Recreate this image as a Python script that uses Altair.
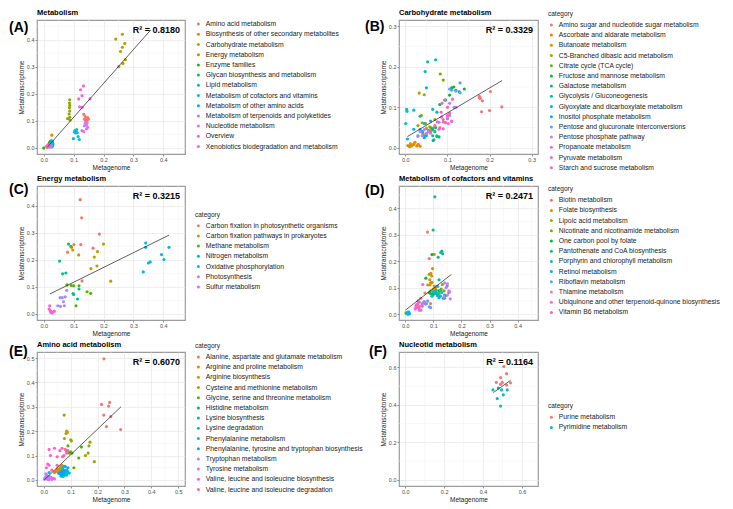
import math
import altair as alt
import pandas as pd

# ---------------- (A) Metabolism ----------------
A_cats = ["Amino acid metabolism", "Biosynthesis of other secondary metabolites", "Carbohydrate metabolism",
          "Energy metabolism", "Enzyme families", "Glycan biosynthesis and metabolism", "Lipid metabolism",
          "Metabolism of cofactors and vitamins", "Metabolism of other amino acids",
          "Metabolism of terpenoids and polyketides", "Nucleotide metabolism", "Overview",
          "Xenobiotics biodegradation and metabolism"]
A_mg = [[0.134, 0.139, 0.143, 0.147, 0.145, 0.136, 0.150, 0.140],
        [0.027, 0.020, 0.018, 0.022, 0.016, 0.024, 0.019, 0.021],
        [0.241, 0.263, 0.271, 0.263, 0.257, 0.273, 0.265, 0.251],
        [0.087, 0.086, 0.087, 0.086, 0.087, 0.085, 0.087, 0.080, 0.088],
        [0.000, 0.020, 0.023, 0.018, 0.025, 0.021, 0.017, 0.022],
        [0.022, 0.026, 0.024, 0.028, 0.020, 0.027, 0.023, 0.025],
        [0.027, 0.029, 0.025, 0.030, 0.028, 0.026, 0.031, 0.024],
        [0.104, 0.109, 0.112, 0.103, 0.110, 0.099, 0.115, 0.119, 0.107],
        [0.024, 0.027, 0.030, 0.026, 0.029, 0.022, 0.028, 0.025],
        [0.020, 0.024, 0.022, 0.026, 0.018, 0.023, 0.021, 0.025],
        [0.139, 0.145, 0.136, 0.143, 0.147, 0.143, 0.128, 0.134],
        [0.133, 0.123, 0.128, 0.117, 0.155, 0.120, 0.128],
        [0.012, 0.015, 0.010, 0.018, 0.014, 0.016, 0.011, 0.013]]
A_mt = [[0.124, 0.116, 0.109, 0.112, 0.104, 0.106, 0.106, 0.100],
        [0.047, 0.018, 0.012, 0.015, 0.008, 0.020, 0.010, 0.022],
        [0.402, 0.420, 0.386, 0.372, 0.356, 0.326, 0.312, 0.300],
        [0.178, 0.166, 0.157, 0.148, 0.136, 0.125, 0.113, 0.108, 0.103],
        [0.000, 0.020, 0.024, 0.015, 0.018, 0.012, 0.010, 0.022],
        [0.014, 0.022, 0.018, 0.020, 0.012, 0.016, 0.010, 0.025],
        [0.020, 0.024, 0.016, 0.018, 0.012, 0.026, 0.014, 0.010],
        [0.064, 0.060, 0.056, 0.058, 0.068, 0.034, 0.042, 0.031, 0.055],
        [0.010, 0.012, 0.008, 0.006, 0.014, 0.008, 0.004, 0.016],
        [0.006, 0.008, 0.010, 0.004, 0.007, 0.012, 0.003, 0.009],
        [0.091, 0.094, 0.082, 0.085, 0.076, 0.070, 0.064, 0.060],
        [0.229, 0.215, 0.193, 0.181, 0.181, 0.152, 0.150],
        [0.005, 0.003, 0.007, 0.006, 0.010, 0.008, 0.002, 0.004]]
A_fit_mg = [0.013, 0.358]
A_fit_mt = [0.004, 0.436]
A_r2 = "R² = 0.8180"

# ---------------- (B) Carbohydrate metabolism ----------------
B_cats = ["Amino sugar and nucleotide sugar metabolism", "Ascorbate and aldarate metabolism",
          "Butanoate metabolism", "C5-Branched dibasic acid metabolism", "Citrate cycle (TCA cycle)",
          "Fructose and mannose metabolism", "Galactose metabolism", "Glycolysis / Gluconeogenesis",
          "Glyoxylate and dicarboxylate metabolism", "Inositol phosphate metabolism",
          "Pentose and glucuronate interconversions", "Pentose phosphate pathway",
          "Propanoate metabolism", "Pyruvate metabolism", "Starch and sucrose metabolism"]
B_mg = [[0.176, 0.178, 0.183, 0.176, 0.202, 0.229, 0.181, 0.200],
        [0.006, 0.012, 0.019, 0.027, 0.035, 0.023, 0.011, 0.031],
        [0.015, 0.020, 0.010, 0.045, 0.050, 0.058, 0.040, 0.070],
        [0.033, 0.045, 0.038, 0.048, 0.060, 0.065, 0.030, 0.042],
        [0.083, 0.090, 0.095, 0.065, 0.070, 0.055, 0.075, 0.060],
        [0.105, 0.110, 0.115, 0.140, 0.095, 0.082, 0.120, 0.128],
        [0.065, 0.068, 0.070, 0.072, 0.075, 0.064, 0.080, 0.066],
        [0.053, 0.072, 0.047, 0.050, 0.065, 0.075, 0.035, 0.045],
        [0.003, 0.004, 0.001, 0.005, 0.020, 0.040, 0.050, 0.045],
        [0.035, 0.040, 0.050, 0.020, 0.060, 0.045, 0.030, 0.055],
        [0.130, 0.110, 0.120, 0.105, 0.130, 0.116, 0.105, 0.100],
        [0.040, 0.035, 0.045, 0.050, 0.030, 0.055, 0.080, 0.060],
        [0.100, 0.095, 0.090, 0.110, 0.086, 0.102, 0.105, 0.120],
        [0.087, 0.093, 0.100, 0.076, 0.080, 0.090, 0.085, 0.110],
        [0.112, 0.082, 0.095, 0.070, 0.100, 0.060, 0.090, 0.105]]
B_mt = [[0.127, 0.122, 0.116, 0.123, 0.139, 0.101, 0.089, 0.092],
        [0.006, 0.010, 0.008, 0.005, 0.004, 0.014, 0.004, 0.009],
        [0.005, 0.009, 0.003, 0.030, 0.048, 0.052, 0.062, 0.070],
        [0.135, 0.131, 0.080, 0.060, 0.042, 0.048, 0.055, 0.035],
        [0.182, 0.167, 0.118, 0.045, 0.052, 0.040, 0.030, 0.050],
        [0.130, 0.148, 0.150, 0.145, 0.118, 0.107, 0.142, 0.138],
        [0.030, 0.020, 0.040, 0.050, 0.028, 0.045, 0.027, 0.018],
        [0.212, 0.217, 0.188, 0.148, 0.095, 0.088, 0.078, 0.060],
        [0.095, 0.090, 0.060, 0.022, 0.093, 0.040, 0.030, 0.025],
        [0.045, 0.040, 0.035, 0.046, 0.066, 0.028, 0.030, 0.043],
        [0.160, 0.142, 0.140, 0.145, 0.136, 0.100, 0.080, 0.072],
        [0.030, 0.040, 0.045, 0.036, 0.028, 0.040, 0.063, 0.036],
        [0.075, 0.062, 0.064, 0.066, 0.076, 0.060, 0.110, 0.100],
        [0.110, 0.118, 0.080, 0.064, 0.046, 0.047, 0.088, 0.065],
        [0.120, 0.050, 0.063, 0.055, 0.100, 0.040, 0.070, 0.085]]
B_fit_mg = [0.005, 0.230]
B_fit_mt = [0.028, 0.166]
B_r2 = "R² = 0.3329"

# ---------------- (C) Energy metabolism ----------------
C_cats = ["Carbon fixation in photosynthetic organisms", "Carbon fixation pathways in prokaryotes",
          "Methane metabolism", "Nitrogen metabolism", "Oxidative phosphorylation", "Photosynthesis",
          "Sulfur metabolism"]
C_mg = [[0.122, 0.127, 0.186, 0.124, 0.101, 0.080, 0.165, 0.128],
        [0.200, 0.093, 0.097, 0.117, 0.180, 0.169, 0.178, 0.158, 0.224],
        [0.091, 0.078, 0.100, 0.118, 0.145, 0.157, 0.108, 0.092],
        [0.083, 0.053, 0.063, 0.074, 0.098, 0.100, 0.113, 0.118],
        [0.341, 0.341, 0.333, 0.350, 0.356, 0.394, 0.402, 0.419],
        [0.072, 0.055, 0.062, 0.066, 0.069, 0.047, 0.056, 0.077],
        [0.020, 0.018, 0.022, 0.025, 0.030, 0.028, 0.035, 0.024]]
C_mt = [[0.422, 0.355, 0.295, 0.256, 0.256, 0.228, 0.243, 0.122],
        [0.258, 0.246, 0.236, 0.218, 0.230, 0.210, 0.177, 0.167, 0.121],
        [0.250, 0.107, 0.104, 0.104, 0.082, 0.076, 0.030, 0.105],
        [0.258, 0.195, 0.148, 0.151, 0.075, 0.072, 0.055, 0.092],
        [0.262, 0.246, 0.155, 0.188, 0.192, 0.219, 0.201, 0.246],
        [0.063, 0.060, 0.060, 0.045, 0.030, 0.030, 0.028, 0.087],
        [0.030, 0.018, 0.012, 0.008, 0.005, 0.004, 0.010, 0.005]]
C_fit_mg = [0.021, 0.419]
C_fit_mt = [0.074, 0.291]
C_r2 = "R² = 0.3215"

# ---------------- (D) Metabolism of cofactors and vitamins ----------------
D_cats = ["Biotin metabolism", "Folate biosynthesis", "Lipoic acid metabolism",
          "Nicotinate and nicotinamide metabolism", "One carbon pool by folate",
          "Pantothenate and CoA biosynthesis", "Porphyrin and chlorophyll metabolism", "Retinol metabolism",
          "Riboflavin metabolism", "Thiamine metabolism",
          "Ubiquinone and other terpenoid-quinone biosynthesis", "Vitamin B6 metabolism"]
D_mg = [[0.079, 0.085, 0.090, 0.095, 0.070, 0.100, 0.088, 0.105],
        [0.103, 0.097, 0.091, 0.094, 0.087, 0.090, 0.103, 0.108],
        [0.002, 0.005, 0.008, 0.085, 0.095, 0.080, 0.100, 0.090],
        [0.132, 0.138, 0.143, 0.149, 0.155, 0.128, 0.120, 0.140],
        [0.073, 0.090, 0.095, 0.110, 0.115, 0.120, 0.085, 0.100],
        [0.105, 0.099, 0.130, 0.126, 0.133, 0.117, 0.120, 0.110],
        [0.005, 0.012, 0.100, 0.108, 0.125, 0.115, 0.095, 0.130],
        [0.010, 0.015, 0.120, 0.135, 0.125, 0.110, 0.140, 0.115],
        [0.050, 0.068, 0.075, 0.085, 0.060, 0.080, 0.090, 0.072],
        [0.140, 0.150, 0.145, 0.155, 0.150, 0.160, 0.138, 0.158],
        [0.062, 0.039, 0.041, 0.050, 0.055, 0.060, 0.045, 0.035],
        [0.040, 0.045, 0.055, 0.050, 0.060, 0.048, 0.065, 0.038]]
D_mt = [[0.310, 0.210, 0.040, 0.075, 0.080, 0.095, 0.110, 0.085],
        [0.226, 0.172, 0.154, 0.144, 0.130, 0.118, 0.106, 0.100],
        [0.005, 0.002, 0.008, 0.150, 0.120, 0.110, 0.095, 0.088],
        [0.112, 0.088, 0.070, 0.106, 0.082, 0.095, 0.078, 0.060],
        [0.136, 0.078, 0.225, 0.080, 0.072, 0.088, 0.082, 0.075],
        [0.443, 0.318, 0.238, 0.233, 0.228, 0.215, 0.130, 0.090],
        [0.003, 0.008, 0.085, 0.078, 0.090, 0.070, 0.068, 0.082],
        [0.000, 0.002, 0.062, 0.060, 0.068, 0.080, 0.072, 0.105],
        [0.046, 0.048, 0.040, 0.028, 0.035, 0.050, 0.025, 0.038],
        [0.118, 0.115, 0.100, 0.088, 0.072, 0.058, 0.065, 0.085],
        [0.112, 0.034, 0.025, 0.015, 0.015, 0.030, 0.040, 0.020],
        [0.035, 0.050, 0.060, 0.030, 0.040, 0.022, 0.045, 0.028]]
D_fit_mg = [0.000, 0.164]
D_fit_mt = [0.015, 0.150]
D_r2 = "R² = 0.2471"

# ---------------- (E) Amino acid metabolism ----------------
E_cats = ["Alanine, aspartate and glutamate metabolism", "Arginine and proline metabolism",
          "Arginine biosynthesis", "Cysteine and methionine metabolism",
          "Glycine, serine and threonine metabolism", "Histidine metabolism", "Lysine biosynthesis",
          "Lysine degradation", "Phenylalanine metabolism",
          "Phenylalanine, tyrosine and tryptophan biosynthesis", "Tryptophan metabolism",
          "Tyrosine metabolism", "Valine, leucine and isoleucine biosynthesis",
          "Valine, leucine and isoleucine degradation"]
E_mg = [[0.224, 0.215, 0.245, 0.241, 0.223, 0.249, 0.233, 0.286],
        [0.065, 0.060, 0.055, 0.045, 0.070, 0.040, 0.050, 0.068],
        [0.085, 0.088, 0.083, 0.077, 0.065, 0.058, 0.070, 0.062],
        [0.076, 0.100, 0.103, 0.155, 0.165, 0.168, 0.172, 0.188],
        [0.095, 0.100, 0.105, 0.090, 0.085, 0.130, 0.140, 0.112],
        [0.065, 0.070, 0.075, 0.068, 0.080, 0.062, 0.072, 0.078],
        [0.070, 0.075, 0.080, 0.065, 0.085, 0.072, 0.068, 0.078],
        [0.080, 0.090, 0.085, 0.075, 0.095, 0.070, 0.088, 0.082],
        [0.075, 0.090, 0.085, 0.020, 0.080, 0.070, 0.010, 0.060],
        [0.080, 0.065, 0.060, 0.070, 0.075, 0.055, 0.068, 0.072],
        [0.005, 0.010, 0.015, 0.008, 0.020, 0.012, 0.025, 0.003],
        [0.015, 0.020, 0.025, 0.030, 0.035, 0.010, 0.018, 0.040],
        [0.020, 0.025, 0.040, 0.060, 0.015, 0.020, 0.050, 0.010],
        [0.068, 0.080, 0.075, 0.090, 0.050, 0.070, 0.085, 0.030]]
E_mt = [[0.497, 0.310, 0.318, 0.303, 0.266, 0.260, 0.219, 0.207],
        [0.055, 0.050, 0.040, 0.035, 0.045, 0.030, 0.045, 0.060],
        [0.200, 0.195, 0.190, 0.170, 0.040, 0.035, 0.030, 0.045],
        [0.266, 0.165, 0.160, 0.100, 0.110, 0.140, 0.155, 0.075],
        [0.110, 0.115, 0.110, 0.140, 0.120, 0.090, 0.135, 0.050],
        [0.030, 0.020, 0.025, 0.035, 0.020, 0.028, 0.015, 0.032],
        [0.020, 0.030, 0.025, 0.015, 0.030, 0.018, 0.025, 0.022],
        [0.040, 0.030, 0.020, 0.025, 0.028, 0.018, 0.035, 0.022],
        [0.055, 0.050, 0.040, 0.030, 0.035, 0.045, 0.020, 0.030],
        [0.055, 0.030, 0.025, 0.020, 0.035, 0.028, 0.018, 0.022],
        [0.010, 0.020, 0.008, 0.025, 0.015, 0.005, 0.012, 0.003],
        [0.003, 0.005, 0.010, 0.002, 0.008, 0.015, 0.001, 0.004],
        [0.125, 0.100, 0.130, 0.120, 0.065, 0.060, 0.095, 0.050],
        [0.130, 0.125, 0.100, 0.120, 0.060, 0.095, 0.110, 0.040]]
E_fit_mg = [0.002, 0.287]
E_fit_mt = [0.000, 0.300]
E_r2 = "R² = 0.6070"

# ---------------- (F) Nucleotid metabolism ----------------
F_cats = ["Purine metabolism", "Pyrimidine metabolism"]
F_mg = [[0.507, 0.521, 0.490, 0.468, 0.499, 0.541, 0.521, 0.490],
        [0.451, 0.495, 0.524, 0.473, 0.504, 0.490, 0.478]]
F_mt = [[0.605, 0.567, 0.546, 0.520, 0.520, 0.518, 0.506, 0.510],
        [0.480, 0.480, 0.480, 0.434, 0.454, 0.394, 0.490]]
F_fit_mg = [0.453, 0.542]
F_fit_mt = [0.466, 0.532]
F_r2 = "R² = 0.1164"

# axis breaks
T45 = [0.0, 0.1, 0.2, 0.3, 0.4]
M45 = [0.05, 0.15, 0.25, 0.35, 0.45]
T30 = [0.0, 0.1, 0.2, 0.3]
M30 = [0.05, 0.15, 0.25]
T50 = [0.0, 0.1, 0.2, 0.3, 0.4, 0.5]
M50 = [0.05, 0.15, 0.25, 0.35, 0.45]
T65 = [0.0, 0.2, 0.4, 0.6]
M65 = [0.1, 0.3, 0.5]

PITCH = 10.2


def hue_pal(n):
    """ggplot2 default discrete palette: hcl(h, c=100, l=65)."""
    wy, wu, wv = 100.0, 0.1978398, 0.4683363

    def gt(u):
        return 1.055 * u ** (1 / 2.4) - 0.055 if u > 0.00304 else 12.92 * u

    cols = []
    for i in range(n):
        h = math.radians(15 + 360.0 * i / n)
        L, C = 65.0, 100.0
        U, V = C * math.cos(h), C * math.sin(h)
        Y = wy * ((L + 16) / 116) ** 3
        u = U / (13 * L) + wu
        v = V / (13 * L) + wv
        X = 9.0 * Y * u / (4 * v)
        Z = -X / 3 - 5 * Y + 3 * Y / v
        rgb = [gt((3.240479 * X - 1.537150 * Y - 0.498535 * Z) / wy),
               gt((-0.969256 * X + 1.875992 * Y + 0.041556 * Z) / wy),
               gt((0.055648 * X - 0.204043 * Y + 1.057311 * Z) / wy)]
        cols.append("#" + "".join("%02X" % int(round(max(0, min(1, c)) * 255)) for c in rgb))
    return cols


def panel(cats, mg, mt, fit_mg, fit_mt, r2, tag, title, xdom, ydom, xt, xm, yt, ym, w, h,
          tag_dx, tag_dy, legend_title):
    rows = []
    for c, xs, ys in zip(cats, mg, mt):
        for a, b in zip(xs, ys):
            rows.append({"category": c, "Metagenome": a, "Metatranscriptome": b})
    df = pd.DataFrame(rows)
    xsc = alt.Scale(domain=xdom, nice=False, zero=False)
    ysc = alt.Scale(domain=ydom, nice=False, zero=False)
    xax = alt.Axis(values=xt, format=".1f", title="Metagenome")
    yax = alt.Axis(values=yt, format=".1f", title="Metatranscriptome")
    X = alt.X("Metagenome:Q", scale=xsc, axis=xax)
    Y = alt.Y("Metatranscriptome:Q", scale=ysc, axis=yax)

    n = len(cats)
    lh = n * PITCH + (11 if legend_title else 0)
    ly = max((h - lh) / 2.0, -9)
    leg_kw = dict(orient="none", legendX=w + 10, legendY=ly)
    if legend_title:
        leg = alt.Legend(title=legend_title, **leg_kw)
    else:
        leg = alt.Legend(title=None, **leg_kw)

    gx = alt.Chart(pd.DataFrame({"Metagenome": xm})).mark_rule(
        color="#f0f0f0", strokeWidth=0.5).encode(x=X)
    gy = alt.Chart(pd.DataFrame({"Metatranscriptome": ym})).mark_rule(
        color="#f0f0f0", strokeWidth=0.5).encode(y=Y)
    pts = alt.Chart(df).mark_circle(size=10, opacity=1).encode(
        x=X, y=Y,
        color=alt.Color("category:N", scale=alt.Scale(domain=cats, range=hue_pal(n)), legend=leg))
    fit = alt.Chart(pd.DataFrame({"Metagenome": fit_mg, "Metatranscriptome": fit_mt})).mark_line(
        color="#1a1a1a", strokeWidth=0.7).encode(x=X, y=Y)
    one = pd.DataFrame({"k": [0]})
    r2t = alt.Chart(one).mark_text(text=r2, align="right", baseline="top", fontSize=9,
                                   fontWeight="bold", color="black").encode(
        x=alt.value(w - 5), y=alt.value(6))
    tagt = alt.Chart(one).mark_text(text=tag, align="left", baseline="top", fontSize=14,
                                    fontWeight="bold", color="black").encode(
        x=alt.value(tag_dx), y=alt.value(tag_dy))
    ttl = alt.Chart(one).mark_text(text=title, align="left", baseline="bottom", fontSize=7.5,
                                   fontWeight="bold", color="black").encode(
        x=alt.value(0), y=alt.value(-3))
    return alt.layer(gx, gy, pts, fit, r2t, tagt, ttl).properties(width=w, height=h)


WL, WR, H = 148, 139, 134
D45 = [-0.0225, 0.4725]

pA = panel(A_cats, A_mg, A_mt, A_fit_mg, A_fit_mt, A_r2, "(A)", "Metabolism",
           D45, D45, T45, M45, T45, M45, WL, H, -28, 1, None)
pB = panel(B_cats, B_mg, B_mt, B_fit_mg, B_fit_mt, B_r2, "(B)", "Carbohydrate metabolism",
           [-0.015, 0.315], [-0.015, 0.315], T30, M30, T30, M30, WR, H, -34, 0, "category")
pC = panel(C_cats, C_mg, C_mt, C_fit_mg, C_fit_mt, C_r2, "(C)", "Energy metabolism",
           D45, D45, T45, M45, T45, M45, WL, H, -28, -3, "category")
pD = panel(D_cats, D_mg, D_mt, D_fit_mg, D_fit_mt, D_r2, "(D)", "Metabolism of cofactors and vitamins",
           D45, [-0.022, 0.484], T45, M45, T45, M45, WR, H, -34, -2, "category")
pE = panel(E_cats, E_mg, E_mt, E_fit_mg, E_fit_mt, E_r2, "(E)", "Amino acid metabolism",
           [-0.025, 0.525], [-0.025, 0.525], T50, M50, T50, M50, WL, H, -28, -7, "category")
pF = panel(F_cats, F_mg, F_mt, F_fit_mg, F_fit_mt, F_r2, "(F)", "Nucleotid metabolism",
           [-0.0325, 0.6825], [-0.0325, 0.6825], T65, M65, T65, M65, WR, H, -30, -7, "category")

chart = alt.concat(pA, pB, pC, pD, pE, pF, columns=2, spacing={"row": 32, "column": 214},
                   bounds="flush", padding=0).resolve_scale(
    x="independent", y="independent", color="independent"
).configure(
    font="Liberation Sans", background="white"
).configure_view(
    stroke="#9c9c9c", strokeWidth=1.2
).configure_axis(
    domain=False, labelFontSize=5.5, labelColor="#4d4d4d", tickColor="#4d4d4d", tickSize=2,
    tickWidth=0.6, gridColor="#e6e6e6", gridWidth=0.7, titleFontSize=6.5, titleFontWeight="normal",
    titleColor="#1a1a1a", labelPadding=1, titlePadding=2
).configure_legend(
    labelFontSize=6.8, labelColor="#222222", titleFontSize=6.5, titleFontWeight="normal",
    titleColor="#222222", symbolSize=9, symbolType="circle", symbolStrokeWidth=0,
    rowPadding=2.2, labelOffset=4, titlePadding=4, labelLimit=300
)

chart.save("out.html", embed_options={"renderer": "svg", "actions": False})
